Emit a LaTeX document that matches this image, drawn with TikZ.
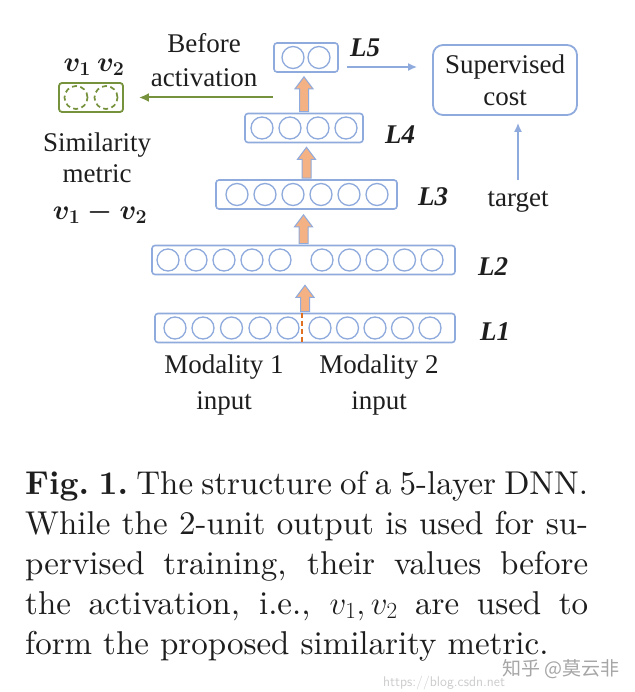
\RequirePackage{fix-cm}
\documentclass[tikz,border=0pt]{standalone}
\usepackage{fontspec}
\newfontfamily\tnr{Liberation Serif}
\newfontfamily\cjk{Noto Sans CJK SC}
\newfontfamily\capfont{lmroman10-regular.otf}[BoldFont=lmroman10-bold.otf]
\usetikzlibrary{calc,arrows.meta}
\definecolor{lblue}{RGB}{143,170,220}
\definecolor{ofill}{RGB}{244,177,131}
\definecolor{odash}{RGB}{224,112,32}
\definecolor{dgreen}{RGB}{118,146,60}
\definecolor{ink}{RGB}{30,30,30}
\newcommand\bv[1]{\mbox{\boldmath$#1$}}
\tikzset{
  layer/.style={draw=lblue, line width=1.6pt, rounded corners=3pt, minimum height=29pt, inner sep=0pt},
  unit/.style={circle, draw=lblue, line width=1.3pt, minimum size=22pt, inner sep=0pt},
  dunit/.style={circle, draw=dgreen, line width=1.7pt, dash pattern=on 5pt off 3.5pt, minimum size=23pt, inner sep=0pt},
  lbl/.style={font=\tnr\bfseries\itshape\fontsize{27}{30}\selectfont, text=ink, inner sep=0pt, anchor=west},
  txt/.style={font=\tnr\fontsize{27}{33}\selectfont, text=ink, align=center, inner sep=0pt},
  blockarr/.style={fill=ofill, draw=lblue, line width=1pt, line join=miter},
  thinarr/.style={draw=lblue, line width=1.6pt, -{Latex[length=9pt,width=8pt]}},
  greenarr/.style={draw=dgreen, line width=2pt, -{Latex[length=10pt,width=9pt]}},
  capline/.style={font=\capfont\fontsize{33}{40}\selectfont, text=ink, inner sep=0pt, anchor=base west},
  mathlbl/.style={text=ink, inner sep=0pt, font=\fontsize{28}{30}\selectfont}
}
\newcommand\upblock[3]{%
  \path[blockarr] let \p1=(#1.north), \p2=(#2.south) in
    (\x1-4.5pt,\y1+1pt) -- (\x1-4.5pt,\y2-#3-12pt) -- (\x1-9pt,\y2-#3-12pt) --
    (\x1,\y2-#3) -- (\x1+9pt,\y2-#3-12pt) -- (\x1+4.5pt,\y2-#3-12pt) --
    (\x1+4.5pt,\y1+1pt) -- cycle;}
\begin{document}
\begin{tikzpicture}[x=1pt,y=-1pt]
\useasboundingbox[fill=white] (0,0) rectangle (634,692);

% layers
\node[layer, minimum width=64pt]  (L5) at (306,57.5) {};
\node[layer, minimum width=118pt] (L4) at (304,128) {};
\node[layer, minimum width=181pt] (L3) at (306.5,194.5) {};
\node[layer, minimum width=303pt] (L2) at (303.5,260) {};
\node[layer, minimum width=300pt] (L1) at (305,328) {};

\foreach \x [count=\i] in {293,319} \node[unit] (u5-\i) at (\x,57.5) {};
\foreach \x [count=\i] in {262,290,318,346} \node[unit] (u4-\i) at (\x,128) {};
\foreach \x [count=\i] in {237,265,293,321,349,377} \node[unit] (u3-\i) at (\x,194.5) {};
\foreach \x [count=\i] in {168,196,224,252,280,322,349.5,377,404.5,432} \node[unit] (u2-\i) at (\x,260) {};
\foreach \x [count=\i] in {175,203,231.5,260,288,320,347.5,375,402.5,430} \node[unit] (u1-\i) at (\x,328) {};

\draw[odash, line width=1.6pt, dash pattern=on 5pt off 3pt] ($(L1.north)+(-3,0)$) -- ($(L1.south)+(-3,0)$);

% orange block arrows
\upblock{L1}{L2}{10pt}
\upblock{L2}{L3}{5pt}
\upblock{L3}{L4}{4pt}
\upblock{L4}{L5}{4pt}

% layer labels
\node[lbl] (t5) at (350,48) {L5};
\node[lbl] (t4) at (385,135) {L4};
\node[lbl] (t3) at (418,197) {L3};
\node[lbl] (t2) at (478,267) {L2};
\node[lbl] (t1) at (480,332) {L1};

% supervised cost
\node[draw=lblue, line width=1.8pt, rounded corners=10pt, minimum width=144pt, minimum height=70pt,
      txt, font=\tnr\fontsize{27}{32}\selectfont] (sup) at (505,80) {Supervised\\cost};
\coordinate (l5s) at (347,67);
\draw[thinarr, shorten >=15pt] (l5s) -- (l5s -| sup.west);
\node[txt] (target) at (518,202) {target};
\coordinate (tgs) at (518,180);
\draw[thinarr, shorten >=7pt] (tgs) -- (tgs |- sup.south);

% before activation / similarity
\node[draw=dgreen, line width=1.8pt, rounded corners=3pt, minimum width=64pt, minimum height=29pt, inner sep=0pt] (gbox) at (91,97.5) {};
\node[dunit] (g1) at (76,97.5) {};
\node[dunit] (g2) at (106,97.5) {};
\node[mathlbl] (v12) at (94,67) {\bv{v_1}\hspace{6pt}\bv{v_2}};
\node[txt, font=\tnr\fontsize{27}{34}\selectfont] (before) at (204,60) {Before\\activation};
\coordinate (gs) at (273,97.5);
\draw[greenarr, shorten >=15pt] (gs) -- (gbox.east);
\node[txt, font=\tnr\fontsize{27}{31}\selectfont] (sim) at (97,158) {Similarity\\metric};
\node[mathlbl] (vd) at (100,213) {\bv{v_1-v_2}};

% modality
\node[txt, font=\tnr\fontsize{27}{36}\selectfont] (m1) at (224,385) {Modality 1\\input};
\node[txt, font=\tnr\fontsize{27}{36}\selectfont] (m2) at (379,385) {Modality 2\\input};

% caption
\node[capline] (c1) at (25,494) {\makebox[563pt][s]{\textbf{Fig.\ 1.}\ The structure of a 5-layer DNN.}};
\node[capline] (c2) at (25,534) {\makebox[563pt][s]{While the 2-unit output is used for su-}};
\node[capline] (c3) at (25,574) {\makebox[563pt][s]{pervised training, their values before}};
\node[capline] (c4) at (25,614) {\makebox[563pt][s]{the activation, i.e., $v_1, v_2$ are used to}};
\node[capline] (c5) at (25,654) {form the proposed similarity metric.};

% watermark
\node[font=\cjk\fontsize{19}{21}\selectfont, text=black!35, inner sep=0pt] (wm) at (561,669) {知乎 @莫云非};
\node[font=\sffamily\fontsize{14}{16}\selectfont, text=black!20, inner sep=0pt, anchor=west] (url) at (383,683) {https://blog.csdn.net};
\end{tikzpicture}
\end{document}
